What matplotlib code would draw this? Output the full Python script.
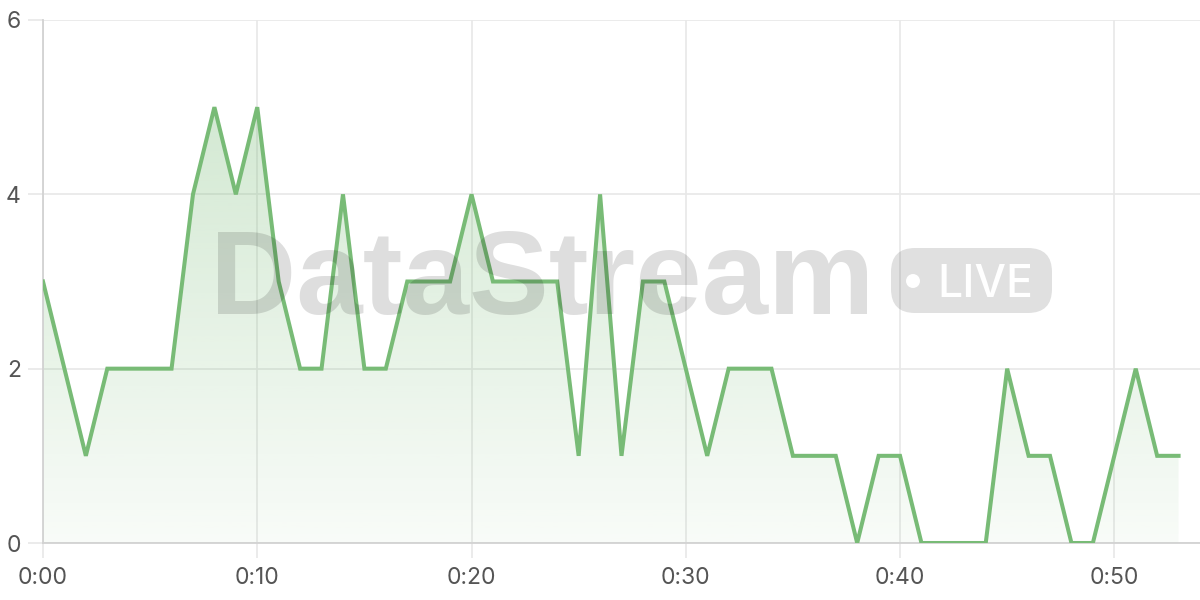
import numpy as np
import matplotlib
matplotlib.use("Agg")
import matplotlib.pyplot as plt
from matplotlib.patches import FancyBboxPatch, Circle
from matplotlib.transforms import IdentityTransform

# minutes since start and event counts
minutes = list(range(54))
counts = [3, 2, 1, 2, 2, 2, 2, 4, 5, 4,
          5, 3, 2, 2, 4, 2, 2, 3, 3, 3,
          4, 3, 3, 3, 3, 1, 4, 1, 3, 3,
          2, 1, 2, 2, 2, 1, 1, 1, 0, 1,
          1, 0, 0, 0, 0, 2, 1, 1, 0, 0,
          1, 2, 1, 1]
x_ticks = [0, 10, 20, 30, 40, 50]
x_labels = ["0:00", "0:10", "0:20", "0:30", "0:40", "0:50"]
y_ticks = [0, 2, 4, 6]

LINE = "#78bb76"
GRID = "#e8e8e8"
SPINE = "#d2d2d2"
TEXT = "#555555"

plt.rcParams["font.family"] = ["Inter", "DejaVu Sans"]

fig = plt.figure(figsize=(12, 6), dpi=100)
ax = fig.add_axes([43 / 1200, 1 - 543 / 600, 1 - 43 / 1200, (543 - 20) / 600])

ax.set_xlim(0, 54)
ax.set_ylim(0, 6)
ax.set_xticks(x_ticks)
ax.set_xticklabels(x_labels)
ax.set_yticks(y_ticks)
ax.grid(True, color=GRID, linewidth=1.2, zorder=0)
ax.set_axisbelow(True)
ax.tick_params(axis="both", length=11, width=1.2, color=GRID,
               labelsize=16.5, labelcolor=TEXT)
ax.tick_params(axis="x", pad=6)
ax.tick_params(axis="y", pad=5)
for side in ("top", "right"):
    ax.spines[side].set_visible(False)
for side in ("left", "bottom"):
    ax.spines[side].set_color(SPINE)
    ax.spines[side].set_linewidth(1.3)

# gradient area under the line
poly = ax.fill_between(minutes, counts, 0, color="none", zorder=1)
grad = np.zeros((256, 1, 4))
rgb = matplotlib.colors.to_rgb(LINE)
grad[..., 0], grad[..., 1], grad[..., 2] = rgb
grad[..., 3] = np.linspace(0.38, 0.05, 256)[:, None]
img = ax.imshow(grad, aspect="auto", extent=[0, 54, 0, 6], origin="upper", zorder=1)
img.set_clip_path(poly.get_paths()[0], transform=ax.transData)

ax.plot(minutes, counts, color=LINE, linewidth=2.9, zorder=3, solid_joinstyle="miter")

# watermark on top
fig.text(210 / 1200, 1 - 314 / 600, "DataStream", fontsize=86, fontweight="bold",
         family=["Liberation Sans", "DejaVu Sans"], color="black", alpha=0.13,
         ha="left", va="baseline", zorder=10)
pill = FancyBboxPatch((891, 600 - 313), 161, 65,
                      boxstyle="round,pad=0,rounding_size=24",
                      transform=IdentityTransform(), facecolor="black",
                      edgecolor="none", alpha=0.12, zorder=10)
fig.add_artist(pill)
fig.add_artist(Circle((913, 600 - 281), 7, transform=IdentityTransform(),
                      facecolor="white", edgecolor="none", zorder=11))
fig.text(937 / 1200, 1 - 297 / 600, "LIVE", fontsize=32, color="white",
         family=["Inter", "DejaVu Sans"], fontweight="medium",
         ha="left", va="baseline", zorder=11)

fig.savefig("out.png", dpi=100)
